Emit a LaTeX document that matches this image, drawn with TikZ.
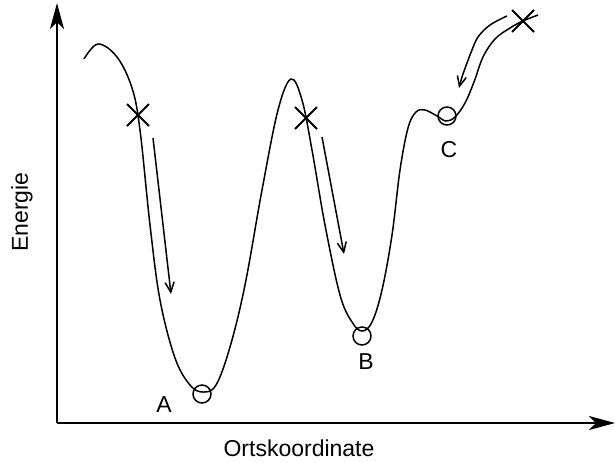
\documentclass[tikz,border=0pt]{standalone}
\usepackage{fontspec}
\setmainfont{Liberation Sans}
\usetikzlibrary{arrows.meta}

\begin{document}
\begin{tikzpicture}[x=0.5pt, y=-0.5pt,
    axisLine/.style={line width=1pt, -{Stealth[length=13pt, width=7pt, inset=3.5pt]}},
    energyLine/.style={line width=0.75pt},
    rollArrow/.style={line width=0.75pt, -{Straight Barb[length=5pt, width=4.5pt]}},
    crossMark/.style={line width=1pt},
    ball/.style={line width=0.75pt},
    label/.style={font=\fontsize{11.5}{14}\selectfont}]
    \def\crossSize{11}
    \def\ballRadius{9}

    \useasboundingbox (0,0) rectangle (615,462);

    % Draw axes
    \coordinate (origin) at (57,423);
    \coordinate (yTip) at (57,3);
    \coordinate (xTip) at (615,423);
    \draw[axisLine] (origin) -- (yTip);
    \draw[axisLine] (origin) -- (xTip);
    \node[label, rotate=90] (yLabel) at (22,212) {Energie};
    \node[label] (xLabel) at (299,448) {Ortskoordinate};

    % Energy curve
    \draw[energyLine] plot[smooth, tension=0.6] coordinates {
        (84,59) (98,44) (117,57) (132,88) (140,130) (150,225) (160,300)
        (175,358) (190,385) (203,392) (216,385) (230,347) (245,285)
        (262,190) (278,110) (291,79) (302,100) (312,150) (325,225)
        (340,295) (352,322) (362,331) (372,322) (382,290) (392,235)
        (400,170) (408,128) (416,112) (425,110) (437,116) (446,121)
        (455,117) (465,103) (474,82) (483,57) (495,39) (510,28)
        (523,21) (538,15)};

    % Minima
    \coordinate (minA) at (202,394);
    \coordinate (minB) at (362,336);
    \coordinate (minC) at (447,116);
    \draw[ball] (minA) circle (\ballRadius);
    \draw[ball] (minB) circle (\ballRadius);
    \draw[ball] (minC) circle (\ballRadius);
    \node[label] (labA) at (164,405) {A};
    \node[label] (labB) at (366,362) {B};
    \node[label] (labC) at (449,150) {C};

    % Start points
    \foreach \px/\py/\name in {138/115/startA, 306/118/startB, 523/21/startC} {
        \coordinate (\name) at (\px,\py);
        \draw[crossMark] ([shift={(-\crossSize,-\crossSize)}]\name) -- ([shift={(\crossSize,\crossSize)}]\name);
        \draw[crossMark] ([shift={(-\crossSize,\crossSize)}]\name) -- ([shift={(\crossSize,-\crossSize)}]\name);
    }

    % Rolling arrows
    \coordinate (arrAfrom) at (153,138);
    \coordinate (arrAto) at (171,294);
    \coordinate (arrBfrom) at (322,137);
    \coordinate (arrBto) at (344,254);
    \draw[rollArrow] (arrAfrom) -- (arrAto);
    \draw[rollArrow] (arrBfrom) -- (arrBto);
    \draw[rollArrow] plot[smooth, tension=0.6] coordinates {
        (507,16) (490,25) (478,37) (472,50) (467,63) (462,77) (459,88)};

\end{tikzpicture}
\end{document}
